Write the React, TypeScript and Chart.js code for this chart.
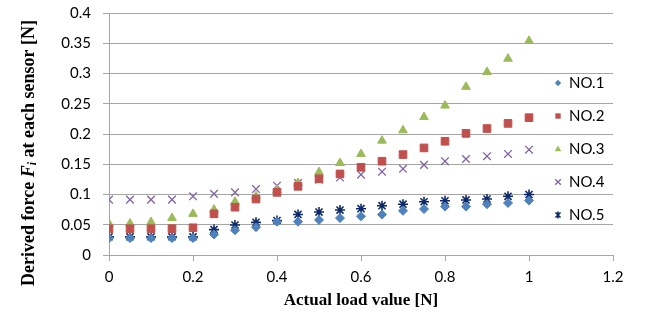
import React, { useEffect, useRef } from "react";
import { Chart, registerables } from "chart.js";

Chart.register(...registerables);

const loads = [0, 0.05, 0.1, 0.15, 0.2, 0.25, 0.3, 0.35, 0.4, 0.45, 0.5, 0.55, 0.6, 0.65, 0.7, 0.75, 0.8, 0.85, 0.9, 0.95, 1.0];

const no1 = [0.028, 0.028, 0.028, 0.028, 0.028, 0.034, 0.041, 0.046, 0.055, 0.055, 0.058, 0.061, 0.064, 0.067, 0.073, 0.076, 0.080, 0.080, 0.084, 0.086, 0.090];
const no2 = [0.0435, 0.0435, 0.0435, 0.0435, 0.045, 0.068, 0.079, 0.0925, 0.1035, 0.1135, 0.126, 0.134, 0.145, 0.155, 0.166, 0.177, 0.188, 0.201, 0.209, 0.2175, 0.227];
const no3 = [0.052, 0.052, 0.0545, 0.061, 0.068, 0.075, 0.088, 0.097, 0.107, 0.119, 0.137, 0.152, 0.167, 0.189, 0.206, 0.228, 0.247, 0.278, 0.3025, 0.3245, 0.354];
const no4 = [0.0915, 0.0915, 0.0915, 0.0915, 0.097, 0.101, 0.1035, 0.109, 0.1145, 0.119, 0.1245, 0.128, 0.1327, 0.1377, 0.1425, 0.149, 0.155, 0.1587, 0.1633, 0.167, 0.174];
const no5 = [0.030, 0.030, 0.030, 0.030, 0.030, 0.042, 0.0496, 0.054, 0.057, 0.067, 0.071, 0.0743, 0.0765, 0.0815, 0.084, 0.088, 0.0897, 0.091, 0.0925, 0.097, 0.100];

const seriesNames = ["NO.1", "NO.2", "NO.3", "NO.4", "NO.5"];

const xTickValues = [0, 0.2, 0.4, 0.6, 0.8, 1.0, 1.2];
const xTickLabels = ["0", "0.2", "0.4", "0.6", "0.8", "1", "1.2"];
const yTickValues = [0, 0.05, 0.1, 0.15, 0.2, 0.25, 0.3, 0.35, 0.4];
const yTickLabels = ["0", "0.05", "0.1", "0.15", "0.2", "0.25", "0.3", "0.35", "0.4"];

const xTitle = "Actual load value [N]";
const yTitleParts = ["Derived force ", "F", "i", " at each sensor [N]"];

const GRID = "#a6a6a6";
const TICK_FONT = "Lato";

const styles = [
  { color: "#4f81bd", shape: "rectRot", r: 4.5, lr: 3.2, bw: 1 },
  { color: "#c0504d", shape: "rect", r: 5.4, lr: 3.8, bw: 1 },
  { color: "#9bbb59", shape: "triangle", r: 5, lr: 3.6, bw: 1 },
  { color: "#8064a2", shape: "crossRot", r: 5.4, lr: 4, bw: 1.3 },
  { color: "#0e2a66", shape: "star", r: 5, lr: 3.6, bw: 1.6 },
];

function drawMarker(ctx: CanvasRenderingContext2D, shape: string, x: number, y: number, r: number, color: string, bw: number) {
  ctx.save();
  ctx.fillStyle = color;
  ctx.strokeStyle = color;
  ctx.lineWidth = bw;
  ctx.beginPath();
  if (shape === "rectRot") {
    ctx.moveTo(x, y - r);
    ctx.lineTo(x + r, y);
    ctx.lineTo(x, y + r);
    ctx.lineTo(x - r, y);
    ctx.closePath();
    ctx.fill();
  } else if (shape === "rect") {
    const s = r * Math.SQRT1_2;
    ctx.rect(x - s, y - s, 2 * s, 2 * s);
    ctx.fill();
  } else if (shape === "triangle") {
    ctx.moveTo(x, y - r);
    ctx.lineTo(x + r * 0.9, y + r * 0.6);
    ctx.lineTo(x - r * 0.9, y + r * 0.6);
    ctx.closePath();
    ctx.fill();
  } else if (shape === "crossRot") {
    const s = r * Math.SQRT1_2;
    ctx.moveTo(x - s, y - s);
    ctx.lineTo(x + s, y + s);
    ctx.moveTo(x - s, y + s);
    ctx.lineTo(x + s, y - s);
    ctx.stroke();
  } else if (shape === "star") {
    const s = r * Math.SQRT1_2;
    ctx.moveTo(x - s, y - s);
    ctx.lineTo(x + s, y + s);
    ctx.moveTo(x - s, y + s);
    ctx.lineTo(x + s, y - s);
    ctx.moveTo(x, y - r);
    ctx.lineTo(x, y + r);
    ctx.stroke();
  }
  ctx.restore();
}

const overlayPlugin = {
  id: "overlay",
  afterDraw(chart: any) {
    const ctx: CanvasRenderingContext2D = chart.ctx;
    const area = chart.chartArea;
    ctx.save();
    ctx.fillStyle = "#000";
    // x title
    ctx.font = 'bold 17px "Liberation Serif"';
    ctx.textAlign = "center";
    ctx.textBaseline = "middle";
    ctx.fillText(xTitle, (area.left + area.right) / 2, 301);

    // y title (rotated, with italic F and subscript i)
    const fonts = [
      'bold 18px "Liberation Serif"',
      'bold italic 18px "Liberation Serif"',
      'bold italic 12px "Liberation Serif"',
      'bold 18px "Liberation Serif"',
    ];
    const shifts = [0, 0, 4, 0];
    let total = 0;
    const widths = yTitleParts.map((p, i) => {
      ctx.font = fonts[i];
      const w = ctx.measureText(p).width;
      total += w;
      return w;
    });
    ctx.translate(29, 153);
    ctx.rotate(-Math.PI / 2);
    ctx.textAlign = "left";
    ctx.textBaseline = "middle";
    let cx = -total / 2;
    yTitleParts.forEach((p, i) => {
      ctx.font = fonts[i];
      ctx.fillText(p, cx, shifts[i]);
      cx += widths[i];
    });
    ctx.restore();

    // legend inside plot
    ctx.save();
    ctx.font = `15px "${TICK_FONT}"`;
    ctx.textAlign = "left";
    ctx.textBaseline = "middle";
    ctx.fillStyle = "#000";
    seriesNames.forEach((name, i) => {
      const y = 83 + i * 33;
      const st = styles[i];
      drawMarker(ctx, st.shape, 558, y, st.lr, st.color, st.bw);
      ctx.fillText(name, 569, y);
    });
    ctx.restore();
  },
};

export default function App() {
  const ref = useRef<HTMLCanvasElement | null>(null);
  useEffect(() => {
    if (!ref.current) return;
    const series = [no1, no2, no3, no4, no5];
    const chart = new Chart(ref.current, {
      type: "scatter",
      data: {
        datasets: series.map((vals, i) => ({
          label: seriesNames[i],
          data: loads.map((x, j) => ({ x, y: vals[j] })),
          pointStyle: styles[i].shape as any,
          pointRadius: styles[i].r,
          pointBackgroundColor: styles[i].color,
          pointBorderColor: styles[i].color,
          pointBorderWidth: styles[i].bw,
          showLine: false,
        })),
      },
      options: {
        animation: false,
        responsive: false,
        maintainAspectRatio: false,
        layout: { padding: { left: 0, top: 13, right: 41, bottom: 0 } },
        plugins: {
          legend: { display: false },
          tooltip: { enabled: false },
        },
        scales: {
          x: {
            type: "linear",
            min: 0,
            max: 1.2,
            afterBuildTicks: (s: any) => {
              s.ticks = xTickValues.map((v) => ({ value: v }));
            },
            afterFit: (s: any) => {
              s.height = 65;
              s.paddingLeft = 0;
              s.paddingRight = 0;
            },
            grid: { display: true, drawOnChartArea: false, color: GRID, tickLength: 6 },
            border: { color: GRID },
            ticks: {
              color: "#000",
              font: { family: TICK_FONT, size: 15 },
              padding: 7,
              maxRotation: 0,
              callback: (_v: any, i: number) => xTickLabels[i],
            },
          },
          y: {
            type: "linear",
            min: 0,
            max: 0.4,
            afterBuildTicks: (s: any) => {
              s.ticks = yTickValues.map((v) => ({ value: v }));
            },
            afterFit: (s: any) => {
              s.width = 109;
              s.paddingTop = 0;
              s.paddingBottom = 0;
            },
            grid: { color: GRID, tickLength: 6 },
            border: { color: GRID },
            ticks: {
              color: "#000",
              font: { family: TICK_FONT, size: 15 },
              padding: 12,
              callback: (_v: any, i: number) => yTickLabels[i],
            },
          },
        },
      },
      plugins: [overlayPlugin],
    });
    return () => chart.destroy();
  }, []);
  return (
    <div style={{ position: "fixed", left: 0, top: 0, width: 654, height: 320, background: "#fff" }}>
      <canvas ref={ref} width={654} height={320} style={{ display: "block" }} />
    </div>
  );
}
